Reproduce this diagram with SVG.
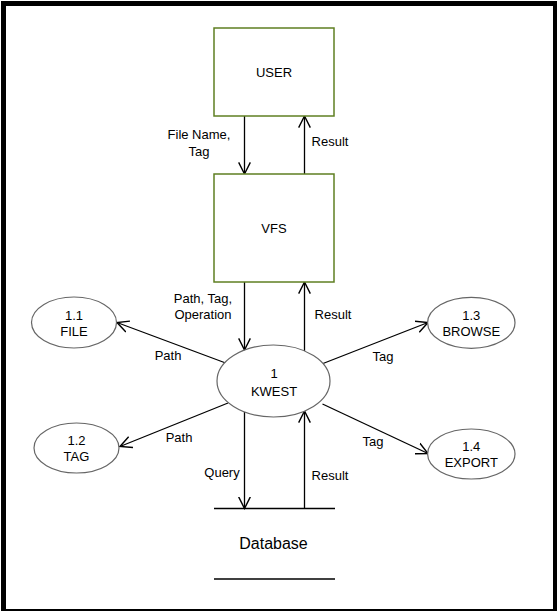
<svg xmlns="http://www.w3.org/2000/svg" width="559" height="612" viewBox="0 0 559 612">
<defs>
<marker id="arr" markerUnits="userSpaceOnUse" markerWidth="14" markerHeight="14" refX="10" refY="5" orient="auto" viewBox="0 0 12 10">
<path d="M0,0 L10,5 L0,10" fill="none" stroke="#000" stroke-width="1.2"/>
</marker>
</defs>
<style>
text{font-family:"Liberation Sans",Arial,sans-serif;font-size:13px;fill:#000;text-anchor:middle;dominant-baseline:central}
.box{fill:#fff;stroke:#5f7f22;stroke-width:1.5}
.proc{fill:#fff;stroke:#666;stroke-width:1.2}
.flow{stroke:#000;stroke-width:1.3;fill:none;marker-end:url(#arr)}
.store{stroke:#000;stroke-width:1.3}
</style>
<rect x="1" y="1" width="556" height="610" fill="#000"/>
<rect x="6" y="6" width="547" height="603" fill="#fff"/>

<g id="connectors">
<line class="flow" x1="244.5" y1="116" x2="244.5" y2="174"/>
<line class="flow" x1="304.5" y1="174" x2="304.5" y2="116"/>
<line class="flow" x1="244.5" y1="282" x2="244.5" y2="350"/>
<line class="flow" x1="304.5" y1="351" x2="304.5" y2="282"/>
<line class="flow" x1="227" y1="363.5" x2="117" y2="322.5"/>
<line class="flow" x1="228" y1="403" x2="120" y2="446.5"/>
<line class="flow" x1="323" y1="363.5" x2="428" y2="322.5"/>
<line class="flow" x1="322.5" y1="404" x2="428" y2="453.5"/>
<line class="flow" x1="244.5" y1="412" x2="244.5" y2="508.5"/>
<line class="flow" x1="304.5" y1="508.5" x2="304.5" y2="411"/>
</g>

<g id="user">
<rect class="box" x="214" y="28" width="120" height="88"/>
<text x="274" y="72">USER</text>
</g>
<g id="vfs">
<rect class="box" x="214" y="174" width="120" height="108"/>
<text x="274" y="228">VFS</text>
</g>
<g id="kwest">
<ellipse class="proc" cx="273.5" cy="381" rx="56.5" ry="36"/>
<text x="274" y="373">1</text>
<text x="274" y="391">KWEST</text>
</g>
<g id="file">
<ellipse class="proc" cx="74" cy="322.5" rx="42.5" ry="25.5"/>
<text x="74" y="315">1.1</text>
<text x="74" y="331">FILE</text>
</g>
<g id="tag">
<ellipse class="proc" cx="76.5" cy="448" rx="42.5" ry="25"/>
<text x="76.5" y="440">1.2</text>
<text x="76.5" y="456">TAG</text>
</g>
<g id="browse">
<ellipse class="proc" cx="471.3" cy="322.8" rx="43.7" ry="25.5"/>
<text x="471.3" y="315">1.3</text>
<text x="471.3" y="331">BROWSE</text>
</g>
<g id="export">
<ellipse class="proc" cx="471.3" cy="454" rx="43.7" ry="25"/>
<text x="471.3" y="446">1.4</text>
<text x="471.3" y="462">EXPORT</text>
</g>
<g id="database">
<line class="store" x1="214" y1="508.5" x2="335" y2="508.5"/>
<line class="store" x1="214" y1="579" x2="335" y2="579"/>
<text x="273.5" y="543" style="font-size:16px">Database</text>
</g>

<g id="labels">
<text x="199" y="134">File Name,</text>
<text x="199" y="151">Tag</text>
<text x="330" y="141">Result</text>
<text x="203" y="298">Path, Tag,</text>
<text x="203" y="314">Operation</text>
<text x="333" y="314">Result</text>
<text x="168" y="355">Path</text>
<text x="179" y="437">Path</text>
<text x="383" y="356">Tag</text>
<text x="373" y="441">Tag</text>
<text x="222" y="472">Query</text>
<text x="330" y="475">Result</text>
</g>
</svg>
